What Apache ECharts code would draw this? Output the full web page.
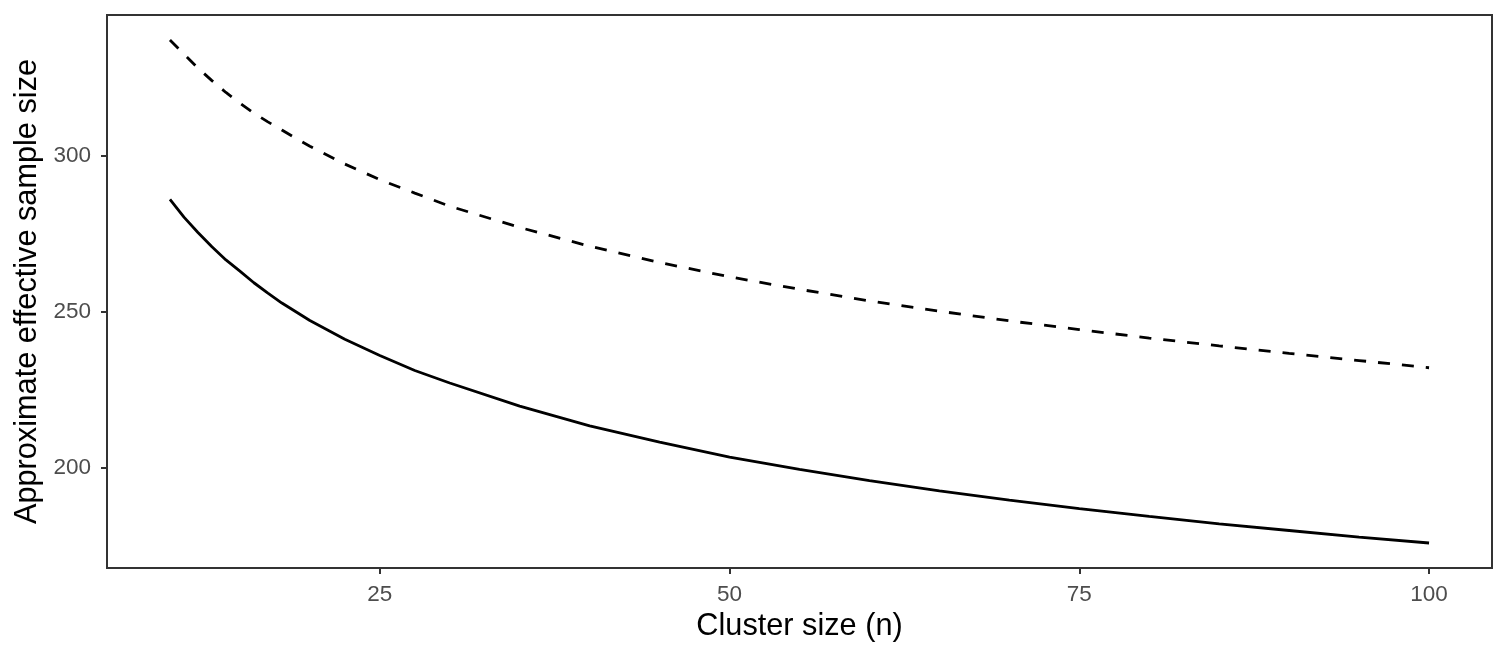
<!DOCTYPE html>
<html>
<head>
<meta charset="utf-8">
<script src="https://cdn.jsdelivr.net/npm/echarts@6/dist/echarts.min.js"></script>
<style>
html,body{margin:0;padding:0;background:#fff;}
#chart{width:1509px;height:656px;}
</style>
</head>
<body>
<div id="chart"></div>
<script>
// Cluster size (n)
const clusterSize = [10, 11, 12, 13, 14, 15, 16, 17, 18, 19, 20, 22.5, 25, 27.5, 30, 35, 40, 45, 50, 55, 60, 65, 70, 75, 80, 85, 90, 95, 100];
// Solid curve
const solidValues = [286, 280.3, 275.4, 270.8, 266.6, 263, 259.3, 256, 252.8, 250, 247.2, 241.2, 236, 231.2, 227.2, 219.8, 213.5, 208.3, 203.5, 199.6, 196, 192.7, 189.7, 187, 184.5, 182.1, 180, 177.9, 176];
// Dashed curve
const dashedValues = [337, 332.5, 328, 324, 320.2, 316.8, 313.6, 310.8, 308.2, 305.5, 303, 297.3, 292.3, 288, 283.8, 277, 271, 265.8, 261.2, 257.2, 253.5, 250.2, 247.1, 244.3, 241.6, 239.1, 236.7, 234.4, 232.1];
// Tick labels
const xTicks = [25, 50, 75, 100];
const yTicks = [200, 250, 300];

const pairs = (xs, ys) => xs.map((x, i) => [x, ys[i]]);

const chart = echarts.init(document.getElementById('chart'), null, {renderer: 'canvas'});
const font = '"Liberation Sans", Arial, Helvetica, sans-serif';
chart.setOption({
  animation: false,
  backgroundColor: '#fff',
  grid: {left: 107, right: 17, top: 15, bottom: 88, show: true, borderColor: '#333333', borderWidth: 2, backgroundColor: 'transparent'},
  xAxis: {
    type: 'value', min: 5.5, max: 104.5,
    name: 'Cluster size (n)', nameLocation: 'middle', nameGap: 40,
    nameTextStyle: {color: '#000', fontSize: 30.7, fontFamily: font},
    axisLine: {show: false},
    splitLine: {show: false},
    axisTick: {show: true, length: 6, lineStyle: {color: '#333333', width: 2}, customValues: xTicks},
    axisLabel: {color: '#4D4D4D', fontSize: 22.5, fontFamily: font, margin: 15, customValues: xTicks}
  },
  yAxis: {
    type: 'value', min: 168, max: 345,
    name: 'Approximate effective sample size', nameLocation: 'middle', nameGap: 58, nameRotate: 90,
    nameTextStyle: {color: '#000', fontSize: 30.7, fontFamily: font},
    axisLine: {show: false},
    splitLine: {show: false},
    axisTick: {show: true, length: 6, lineStyle: {color: '#333333', width: 2}, customValues: yTicks},
    axisLabel: {color: '#4D4D4D', fontSize: 22.5, fontFamily: font, margin: 16, customValues: yTicks}
  },
  series: [
    {type: 'line', data: pairs(clusterSize, dashedValues), showSymbol: false, smooth: false,
     lineStyle: {color: '#000', width: 2.8, type: [12, 12]}},
    {type: 'line', data: pairs(clusterSize, solidValues), showSymbol: false, smooth: false,
     lineStyle: {color: '#000', width: 2.8, type: 'solid'}}
  ]
});
</script>
</body>
</html>
